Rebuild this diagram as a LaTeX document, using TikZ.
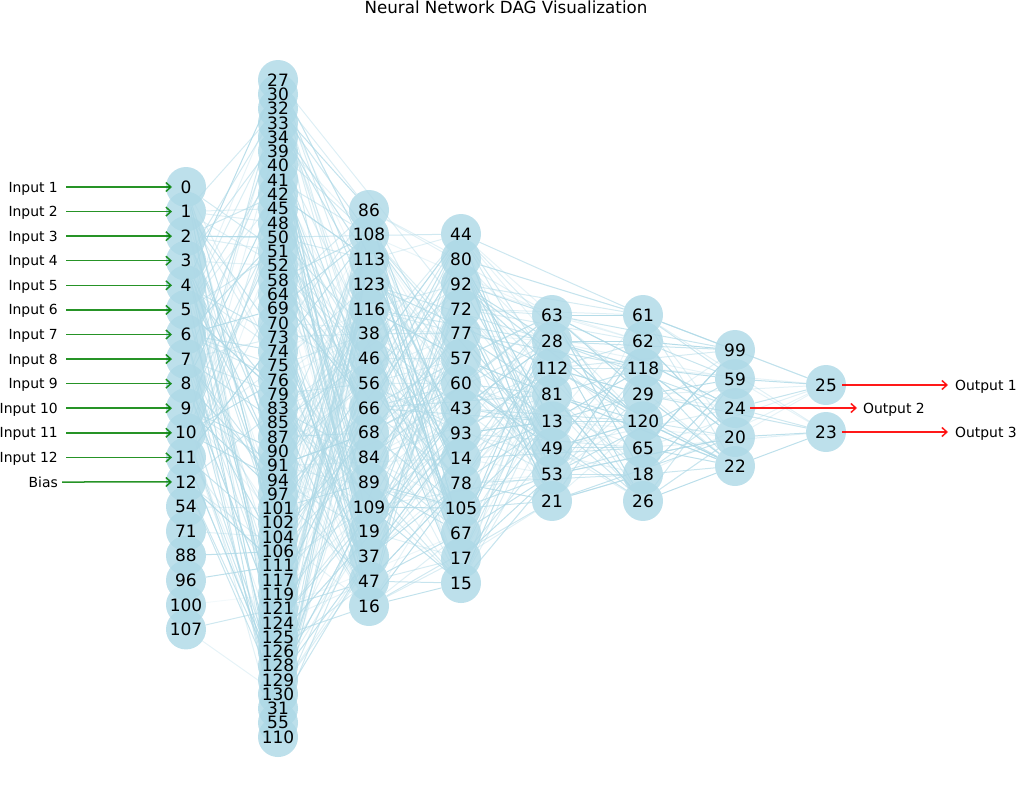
\documentclass[tikz,border=0pt]{standalone}
\usepackage{fontspec}
\setmainfont{DejaVu Sans}
\usetikzlibrary{arrows.meta,backgrounds}
\definecolor{lb}{RGB}{173,216,230}
\definecolor{ingreen}{RGB}{0,128,0}
\definecolor{outred}{RGB}{255,0,0}
\pgfdeclarelayer{labels}
\pgfsetlayers{background,main,labels}
\begin{document}
\begin{tikzpicture}[x=1pt,y=-1pt,
  nn/.style={circle,fill=lb,fill opacity=0.8,minimum size=40pt,inner sep=0pt},
  nlab/.style={inner sep=0pt,font=\fontsize{17}{17}\selectfont},
  lbl/.style={font=\fontsize{13.9}{14}\selectfont,inner sep=0pt},
  ttl/.style={font=\fontsize{16.7}{18}\selectfont,inner sep=0pt},
  conn/.style={draw=lb,line width=1pt},
  inarrow/.style={draw=ingreen,draw opacity=0.85,line width=1.5pt,-{Straight Barb[length=5pt,width=9pt]}},
  outarrow/.style={draw=outred,draw opacity=0.9,line width=1.5pt,-{Straight Barb[length=5pt,width=9pt]}},
]
\useasboundingbox (0,0) rectangle (1016,792);
\node[ttl,anchor=base] (title) at (506,14) {Neural Network DAG Visualization};

% node circles (labels drawn on a top layer)
\foreach \l [count=\i from 0] in {0,1,2,3,4,5,6,7,8,9,10,11,12,54,71,88,96,100,107}{
  \node[nn,alias=A\i] (n\l) at (186,{187+24.58*\i}) {};
  \begin{pgfonlayer}{labels}\node[nlab] (t\l) at (n\l) {\l};\end{pgfonlayer}
}
\foreach \l [count=\i from 0] in {27,30,32,33,34,39,40,41,42,45,48,50,51,52,58,64,69,70,73,74,75,76,79,83,85,87,90,91,94,97,101,102,104,106,111,117,119,121,124,125,126,128,129,130,31,55,110}{
  \node[nn,alias=B\i] (n\l) at (278,{80+14.283*\i}) {};
  \begin{pgfonlayer}{labels}\node[nlab] (t\l) at (n\l) {\l};\end{pgfonlayer}
}
\foreach \l [count=\i from 0] in {86,108,113,123,116,38,46,56,66,68,84,89,109,19,37,47,16}{
  \node[nn,alias=C\i] (n\l) at (369,{210+24.75*\i}) {};
  \begin{pgfonlayer}{labels}\node[nlab] (t\l) at (n\l) {\l};\end{pgfonlayer}
}
\foreach \l [count=\i from 0] in {44,80,92,72,77,57,60,43,93,14,78,105,67,17,15}{
  \node[nn,alias=D\i] (n\l) at (461,{234+24.93*\i}) {};
  \begin{pgfonlayer}{labels}\node[nlab] (t\l) at (n\l) {\l};\end{pgfonlayer}
}
\foreach \l [count=\i from 0] in {63,28,112,81,13,49,53,21}{
  \node[nn,alias=E\i] (n\l) at (552,{315+26.57*\i}) {};
  \begin{pgfonlayer}{labels}\node[nlab] (t\l) at (n\l) {\l};\end{pgfonlayer}
}
\foreach \l [count=\i from 0] in {61,62,118,29,120,65,18,26}{
  \node[nn,alias=F\i] (n\l) at (643,{315+26.57*\i}) {};
  \begin{pgfonlayer}{labels}\node[nlab] (t\l) at (n\l) {\l};\end{pgfonlayer}
}
\foreach \l [count=\i from 0] in {99,59,24,20,22}{
  \node[nn,alias=G\i] (n\l) at (735,{350+29*\i}) {};
  \begin{pgfonlayer}{labels}\node[nlab] (t\l) at (n\l) {\l};\end{pgfonlayer}
}
\node[nn,alias=H0] (n25) at (826,385) {};
\node[nn,alias=H1] (n23) at (826,432) {};
\begin{pgfonlayer}{labels}
\node[nlab] (t25) at (n25) {25};
\node[nlab] (t23) at (n23) {23};
\end{pgfonlayer}

% connectors
\begin{pgfonlayer}{background}
\pgfmathsetseed{2024}
\foreach \i in {0,...,12}{
  \foreach \k in {1,...,9}{
    \pgfmathtruncatemacro\t{random(0,46)}
    \pgfmathsetmacro\o{0.25+0.6*rnd}
    \draw[conn,draw opacity=\o] (A\i) -- (B\t);
  }
}
\draw[conn,draw opacity=0.8] (n88) -- (n106);
\draw[conn,draw opacity=0.8] (n96) -- (n111);
\draw[conn,draw opacity=0.15] (n100) -- (n119);
\draw[conn,draw opacity=0.6] (n107) -- (n121);
\draw[conn,draw opacity=0.3] (n107) -- (n130);
\draw[conn,draw opacity=0.35] (n54) -- (n101);
\draw[conn,draw opacity=0.35] (n71) -- (n104);
\foreach \i in {0,...,46}{
  \foreach \k in {1,...,4}{
    \pgfmathtruncatemacro\t{random(0,16)}
    \pgfmathsetmacro\o{0.2+0.6*rnd}
    \draw[conn,draw opacity=\o] (B\i) -- (C\t);
  }
}
\foreach \k in {1,...,26}{
  \pgfmathtruncatemacro\s{random(0,46)}
  \pgfmathtruncatemacro\t{random(0,14)}
  \pgfmathsetmacro\o{0.15+0.45*rnd}
  \draw[conn,draw opacity=\o] (B\s) -- (D\t);
}
\foreach \i in {0,...,16}{
  \foreach \k in {1,...,7}{
    \pgfmathtruncatemacro\t{random(0,14)}
    \pgfmathsetmacro\o{0.25+0.6*rnd}
    \draw[conn,draw opacity=\o] (C\i) -- (D\t);
  }
}
\foreach \k in {1,...,20}{
  \pgfmathtruncatemacro\s{random(0,16)}
  \pgfmathtruncatemacro\t{random(0,7)}
  \pgfmathsetmacro\o{0.2+0.5*rnd}
  \draw[conn,draw opacity=\o] (C\s) -- (E\t);
}
\foreach \i in {0,...,14}{
  \foreach \k in {1,...,6}{
    \pgfmathtruncatemacro\t{random(0,7)}
    \pgfmathsetmacro\o{0.25+0.6*rnd}
    \draw[conn,draw opacity=\o] (D\i) -- (E\t);
  }
}
\foreach \k in {1,...,22}{
  \pgfmathtruncatemacro\s{random(0,14)}
  \pgfmathtruncatemacro\t{random(0,7)}
  \pgfmathsetmacro\o{0.2+0.5*rnd}
  \draw[conn,draw opacity=\o] (D\s) -- (F\t);
}
\foreach \i in {0,...,7}{
  \foreach \k in {1,...,6}{
    \pgfmathtruncatemacro\t{random(0,7)}
    \pgfmathsetmacro\o{0.25+0.6*rnd}
    \draw[conn,draw opacity=\o] (E\i) -- (F\t);
  }
}
\foreach \k in {1,...,18}{
  \pgfmathtruncatemacro\s{random(0,7)}
  \pgfmathtruncatemacro\t{random(0,4)}
  \pgfmathsetmacro\o{0.25+0.5*rnd}
  \draw[conn,draw opacity=\o] (E\s) -- (G\t);
}
\draw[conn,draw opacity=0.9] (n63) -- (n61);
\draw[conn,draw opacity=0.9] (n28) -- (n62);
\foreach \i in {0,...,7}{
  \foreach \k in {1,...,4}{
    \pgfmathtruncatemacro\t{random(0,4)}
    \pgfmathsetmacro\o{0.3+0.6*rnd}
    \draw[conn,draw opacity=\o] (F\i) -- (G\t);
  }
}
\foreach \k in {1,...,10}{
  \pgfmathtruncatemacro\s{random(0,7)}
  \pgfmathtruncatemacro\t{random(0,1)}
  \pgfmathsetmacro\o{0.2+0.4*rnd}
  \draw[conn,draw opacity=\o] (F\s) -- (H\t);
}
\draw[conn,draw opacity=0.2] (n99) -- (n25);
\draw[conn,draw opacity=0.8] (n59) -- (n25);
\draw[conn,draw opacity=0.7] (n24) -- (n25);
\draw[conn,draw opacity=0.6] (n24) -- (n23);
\draw[conn,draw opacity=0.3] (n59) -- (n23);
\draw[conn,draw opacity=0.8] (n20) -- (n23);
\draw[conn,draw opacity=0.3] (n20) -- (n25);
\draw[conn,draw opacity=0.8] (n22) -- (n23);
\end{pgfonlayer}

% inputs
\foreach \k in {0,...,11}{
  \pgfmathtruncatemacro\m{\k+1}
  \node[lbl,anchor=base east] (in\k) at (58,{192+24.58*\k}) {Input \m};
  \draw[inarrow,shorten <=4pt,shorten >=14pt] (62,{187+24.58*\k}) -- (A\k.center);
}
\node[lbl,anchor=base east] (inb) at (58,487) {Bias};
\coordinate (bstart) at (62,482);
\draw[inarrow,shorten >=14pt] (bstart) -- (n12.center);

% outputs
\node[lbl,anchor=base west] (out1) at (955,390) {Output 1};
\node[lbl,anchor=base west] (out2) at (863,413) {Output 2};
\node[lbl,anchor=base west] (out3) at (955,437) {Output 3};
\coordinate (e1) at (948,385);
\coordinate (e2) at (857,408);
\coordinate (e3) at (948,432);
\draw[outarrow,shorten <=16pt] (n25.center) -- (e1);
\draw[outarrow,shorten <=15pt] (n24.center) -- (e2);
\draw[outarrow,shorten <=16pt] (n23.center) -- (e3);
\end{tikzpicture}
\end{document}
